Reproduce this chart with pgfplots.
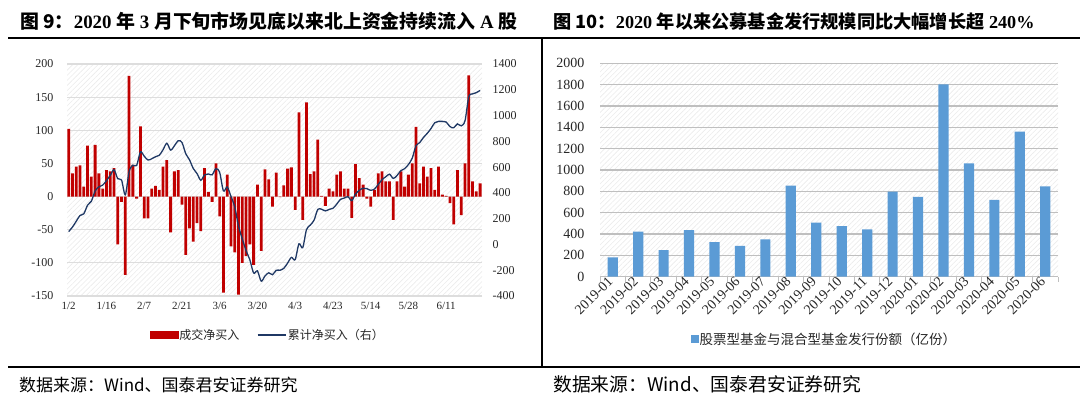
\documentclass[border=0pt]{standalone}
\usepackage{pgfplots}
\pgfplotsset{compat=1.18}
\usepackage{pgfplotstable}
\usepackage{fontspec}
\setmainfont{Liberation Serif}
\newfontfamily\cjk{Noto Sans CJK SC}
\usetikzlibrary{patterns.meta}
\definecolor{barred}{HTML}{C00000}
\definecolor{navy}{HTML}{1F3864}
\definecolor{barblue}{HTML}{5B9BD5}
\definecolor{gridl}{HTML}{DDDDDD}
\definecolor{gridr}{HTML}{BFBFBF}
\definecolor{hatch}{HTML}{EBEBEB}
\definecolor{txt}{HTML}{262626}
\newcommand\tc[1]{{\cjk\bfseries #1}}

\pgfplotstableread{
i v
0 102
1 35
2 45
3 47
4 15
5 77
6 30
7 78
8 35
9 12
10 40
11 38
12 43
13 -72
14 -8
15 -118
16 182
17 48
18 -3
19 106
20 -33
21 -33
22 12
23 16
24 10
25 45
26 55
27 -54
28 38
29 40
30 -12
31 -88
32 -48
33 -68
34 -40
35 -52
36 43
37 7
38 -8
39 50
40 -30
41 -145
42 33
43 -75
44 -84
45 -148
46 -100
47 -90
48 -72
49 -103
50 18
51 -82
52 41
53 26
54 -15
55 36
56 -1
57 17
58 42
59 44
60 -20
61 127
62 -35
63 142
64 34
65 38
66 86
67 1
68 -14
69 12
70 8
71 33
72 38
73 12
74 12
75 -32
76 49
77 28
78 18
79 -3
80 -15
81 10
82 35
83 38
84 23
85 23
86 -35
87 23
88 38
89 15
90 33
91 50
92 105
93 20
94 45
95 30
96 43
97 10
98 45
99 3
100 1
101 -10
102 -42
103 40
104 -28
105 50
106 183
107 23
108 8
109 20
}\flowtable

\pgfplotstableread{
i c
0 100
1 135
2 180
3 225
4 238
5 305
6 335
7 415
8 447
9 460
10 495
11 535
12 580
13 510
14 500
15 385
16 565
17 615
18 612
19 718
20 685
21 655
22 665
23 680
24 692
25 735
26 785
27 732
28 765
29 805
30 792
31 705
32 657
33 590
34 550
35 498
36 540
37 547
38 540
39 588
40 558
41 415
42 446
43 372
44 290
45 142
46 42
47 -48
48 -120
49 -222
50 -205
51 -285
52 -245
53 -220
54 -235
55 -200
56 -200
57 -185
58 -145
59 -100
60 -118
61 5
62 -25
63 115
64 150
65 188
66 272
67 273
68 260
69 272
70 280
71 312
72 350
73 360
74 370
75 340
76 392
77 420
78 436
79 433
80 420
81 430
82 465
83 502
84 525
85 545
86 512
87 535
88 572
89 588
90 620
91 668
92 765
93 790
94 830
95 862
96 900
97 945
98 955
99 955
100 950
101 915
102 905
103 935
104 920
105 960
106 1145
107 1168
108 1178
109 1195
}\cumtable

\pgfplotstableread{
i v
0 181
1 422
2 250
3 437
4 325
5 290
6 350
7 853
8 506
9 475
10 444
11 797
12 747
13 1803
14 1062
15 719
16 1359
17 847
}\fundtable

\begin{document}
\begin{tikzpicture}
\useasboundingbox (0pt,0pt) rectangle (1080pt,397pt);
% frame lines
\draw[line width=2pt] (8pt,359pt) -- (1080pt,359pt);
\draw[line width=2pt] (8pt,30pt) -- (1080pt,30pt);
\draw[line width=1.5pt] (542pt,359pt) -- (542pt,30pt);
% titles
\node[anchor=base west, inner sep=0pt] at (20pt,368.5pt) {\fontsize{18.9}{18.9}\selectfont\tc{图 9：}\textbf{2020 }\tc{年}\textbf{ 3 }\tc{月下旬市场见底以来北上资金持续流入}\textbf{ A }\tc{股}};
\node[anchor=base west, inner sep=0pt] at (553pt,368.5pt) {\fontsize{18.2}{18.2}\selectfont\tc{图 10：}\textbf{2020 }\tc{年以来公募基金发行规模同比大幅增长超}\textbf{ 240\%}};
% sources
\node[anchor=base west, inner sep=0pt] at (19pt,6pt) {\cjk\fontsize{17}{17}\selectfont 数据来源：Wind、国泰君安证券研究};
\node[anchor=base west, inner sep=0pt] at (553pt,6pt) {\cjk\fontsize{18.8}{18.8}\selectfont 数据来源：Wind、国泰君安证券研究};

% ---------- left chart: bars ----------
\begin{axis}[
  at={(67pt,101pt)}, anchor=south west, scale only axis,
  width=415pt, height=232pt,
  xmin=-0.45, xmax=109.5, ymin=-150, ymax=200,
  ytick={-150,-100,...,200},
  xtick={0,10,...,100},
  xticklabels={1/2,1/16,2/7,2/21,3/6,3/20,4/3,4/23,5/14,5/28,6/11},
  axis line style={draw=none}, major tick length=0pt,
  ymajorgrids, grid style={gridl, line width=1.2pt},
  axis background/.style={pattern={Lines[angle=45,distance=3.6pt,line width=0.6pt]}, pattern color=hatch},
  yticklabel style={font=\fontsize{12}{12}\selectfont, text=txt, xshift=-10pt},
  xticklabel style={font=\fontsize{11}{11}\selectfont, text=txt, yshift=-3pt},
  /pgf/number format/assume math mode=true,
  /pgf/number format/1000 sep={},
  scaled y ticks=false,
  ybar, bar width=2.8pt,
]
\addplot[fill=barred, draw=none] table[x=i,y=v]{\flowtable};
\end{axis}

% ---------- left chart: cumulative line ----------
\begin{axis}[
  at={(67pt,101pt)}, anchor=south west, scale only axis,
  width=415pt, height=232pt,
  xmin=-0.45, xmax=109.5, ymin=-400, ymax=1400,
  ytick={-400,-200,...,1400},
  axis y line*=right, axis x line=none,
  axis line style={draw=none}, major tick length=0pt,
  yticklabel style={font=\fontsize{12}{12}\selectfont, text=txt, anchor=west, xshift=7pt},
  /pgf/number format/assume math mode=true,
  /pgf/number format/1000 sep={},
  scaled y ticks=false,
  legend style={at={(0.483,-0.168)}, anchor=center, draw=none, fill=none,
    legend columns=2, font=\cjk\fontsize{12}{12}\selectfont, text=txt,
    /tikz/every even column/.append style={column sep=16pt},
    nodes={inner sep=1.5pt}},
]
\addlegendimage{legend image code/.code={\fill[barred] (0pt,-3.5pt) rectangle (28pt,3.5pt);}}
\addlegendentry{成交净买入}
\addplot[navy, line width=1.3pt, smooth, legend image code/.code={\draw[navy, line width=1.3pt] (0pt,0pt) -- (28pt,0pt);}] table[x=i,y=c]{\cumtable};
\addlegendentry{累计净买入（右）}
\end{axis}

% ---------- right chart ----------
\begin{axis}[
  at={(600pt,120.3pt)}, anchor=south west, scale only axis,
  width=458pt, height=213.4pt,
  xmin=-0.5, xmax=17.5, ymin=0, ymax=2000,
  ytick={0,200,...,2000},
  xtick={0,...,17},
  xticklabels={2019-01,2019-02,2019-03,2019-04,2019-05,2019-06,2019-07,2019-08,2019-09,2019-10,2019-11,2019-12,2020-01,2020-02,2020-03,2020-04,2020-05,2020-06},
  extra x ticks={-0.5,0.5,...,17.5}, extra x tick labels={},
  extra x tick style={major tick length=5pt, tick align=outside, tick style={draw=gridr, line width=1pt}},
  axis x line*=bottom, axis y line*=left,
  x axis line style={draw=gridr, line width=1.2pt},
  y axis line style={draw=none},
  major tick length=0pt,
  ymajorgrids, grid style={gridr, line width=1.2pt},
  axis background/.style={pattern={Lines[angle=45,distance=3.6pt,line width=0.6pt]}, pattern color=hatch},
  yticklabel style={font=\fontsize{14}{14}\selectfont, text=txt, xshift=-12pt},
  xticklabel style={font=\fontsize{14}{14}\selectfont, text=txt, rotate=45, anchor=east},
  /pgf/number format/assume math mode=true,
  /pgf/number format/1000 sep={},
  scaled y ticks=false,
  ybar, bar width=10.2pt,
  legend style={at={(0.489,-0.292)}, anchor=center, draw=none, fill=none,
    font=\cjk\fontsize{13.5}{13.5}\selectfont, text=txt, nodes={inner sep=1pt}},
  legend image code/.code={\fill[barblue] (0pt,-4pt) rectangle (8pt,4pt);},
]
\addplot[fill=barblue, draw=none] table[x=i,y=v]{\fundtable};
\addlegendentry{股票型基金与混合型基金发行份额（亿份）}
\end{axis}
\end{tikzpicture}
\end{document}
